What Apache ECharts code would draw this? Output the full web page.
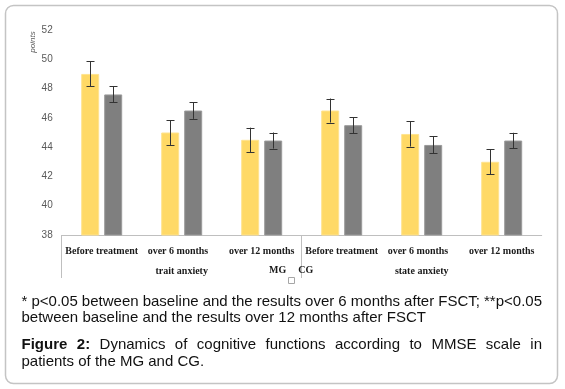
<!DOCTYPE html>
<html><head><meta charset="utf-8">
<script src="https://cdn.jsdelivr.net/npm/echarts@6/dist/echarts.min.js"></script>
<style>html,body{margin:0;padding:0;background:#fff}#c{width:565px;height:389px}</style>
</head><body><div id="c"></div>
<script>
// ---- data ----
const categories = ['Before treatment', 'over 6 months', 'over 12 months', 'Before treatment', 'over 6 months', 'over 12 months'];
const groups = ['trait anxiety', 'state anxiety'];
const seriesNames = ['MG', 'CG'];
const mgValues = [49.0, 45.0, 44.5, 46.5, 44.9, 43.0];
const cgValues = [47.6, 46.5, 44.45, 45.5, 44.15, 44.45];
const mgErr = [0.85, 0.85, 0.83, 0.82, 0.86, 0.85];
const cgErr = [0.55, 0.57, 0.55, 0.55, 0.58, 0.53];
const groupStarts = [0, 3];
const yMin = 38, yMax = 52, yStep = 2;
const yName = 'points';
const noteLine1 = '* p<0.05 between baseline and the results over 6 months after FSCT; **p<0.05';
const noteLine2 = 'between baseline and the results over 12 months after FSCT';
const figLabel = 'Figure 2:';
const figLine1 = 'Dynamics of cognitive functions according to MMSE scale in';
const figLine2 = 'patients of the MG and CG.';

// ---- caption layout (justified text) ----
const ctx = document.createElement('canvas').getContext('2d');
const FS = 15, FF = '"Liberation Sans", Arial, sans-serif';
function tw(t, bold) { ctx.font = (bold ? 'bold ' : '') + FS + 'px ' + FF; return ctx.measureText(t).width; }
const X0 = 21.5, X1 = 542;
function lineEls(words, y, justify) {
  const widths = words.map(w => tw(w.t, w.b));
  const total = widths.reduce((a, b) => a + b, 0);
  const gap = justify && words.length > 1 ? (X1 - X0 - total) / (words.length - 1) : tw(' ');
  let x = X0;
  return words.map((w, i) => {
    const el = { type: 'text', x: x, y: y, z: 100,
      style: { text: w.t, fontSize: FS, fontFamily: FF, fontWeight: w.b ? 'bold' : 'normal', fill: '#111', textVerticalAlign: 'middle' } };
    x += widths[i] + gap;
    return el;
  });
}
const W = s => s.split(' ').map(t => ({ t }));
const captionEls = [].concat(
  lineEls(W(noteLine1), 302, true),
  lineEls(W(noteLine2), 318, false),
  lineEls(figLabel.split(' ').map(t => ({ t, b: true })).concat(W(figLine1)), 345, true),
  lineEls(W(figLine2), 362, false)
);

// ---- error bars ----
const BAR_W = 18, BAR_GAP_PX = 5;
const OFF = (BAR_W + BAR_GAP_PX) / 2;
function errRender(offset) {
  return function (params, api) {
    const i = api.value(0);
    const lo = api.coord([i, api.value(1)]);
    const hi = api.coord([i, api.value(2)]);
    const x = Math.round(lo[0] + offset) + 0.5;
    const c = 4;
    const st = { stroke: '#333', lineWidth: 1 };
    return { type: 'group', children: [
      { type: 'line', shape: { x1: x, y1: hi[1], x2: x, y2: lo[1] }, style: st },
      { type: 'line', shape: { x1: x - c, y1: Math.round(hi[1]) + 0.5, x2: x + c, y2: Math.round(hi[1]) + 0.5 }, style: st },
      { type: 'line', shape: { x1: x - c, y1: Math.round(lo[1]) + 0.5, x2: x + c, y2: Math.round(lo[1]) + 0.5 }, style: st }
    ] };
  };
}
const errData = (vals, errs) => vals.map((v, i) => [i, v - errs[i], v + errs[i]]);

const serif = '"Liberation Serif", "Times New Roman", serif';
const chart = echarts.init(document.getElementById('c'), null, { renderer: 'canvas' });
chart.setOption({
  animation: false,
  backgroundColor: '#fff',
  grid: { left: 61.7, right: 23.3, top: 30, bottom: 154, containLabel: false },
  legend: {
    data: seriesNames, left: 257, top: 260, itemWidth: 1, itemHeight: 1, itemGap: 5,
    itemStyle: { opacity: 0 },
    textStyle: { fontFamily: serif, fontWeight: 'bold', fontSize: 10, color: '#1a1a1a', padding: 0 }
  },
  xAxis: [{
    type: 'category', data: categories, boundaryGap: true,
    axisLine: { show: true, lineStyle: { color: '#bfbfbf', width: 1 } },
    axisTick: { show: false },
    axisLabel: { interval: 0, margin: 11, fontFamily: serif, fontWeight: 'bold', fontSize: 10, color: '#1a1a1a',
      formatter: v => v === 'over 6 months' ? v + '\u00a0\u00a0\u00a0' : v }
  }, {
    type: 'category', data: groups, position: 'bottom', gridIndex: 0,
    axisLine: { show: false }, axisTick: { show: false },
    axisLabel: { interval: 0, margin: 31, fontFamily: serif, fontWeight: 'bold', fontSize: 10, color: '#1a1a1a' }
  }, {
    type: 'value', min: 0, max: categories.length, position: 'bottom', gridIndex: 0,
    axisLine: { show: false }, axisLabel: { show: false }, splitLine: { show: false },
    axisTick: { show: true, customValues: groupStarts, length: 43, lineStyle: { color: '#bfbfbf' } }
  }],
  yAxis: {
    type: 'value', min: yMin, max: yMax, interval: yStep,
    axisLine: { show: false }, axisTick: { show: false }, splitLine: { show: false },
    axisLabel: { margin: 9, fontFamily: '"Liberation Sans", Arial, sans-serif', fontSize: 10, color: '#595959' }
  },
  series: [
    { name: seriesNames[0], type: 'bar', data: mgValues, barWidth: BAR_W, barGap: (BAR_GAP_PX / BAR_W * 100) + '%',
      itemStyle: { color: '#FFD966', borderColor: '#FFE38F', borderWidth: 1 } },
    { name: seriesNames[1], type: 'bar', data: cgValues, barWidth: BAR_W,
      itemStyle: { color: '#7F7F7F', borderColor: '#9a9a9a', borderWidth: 1 } },
    { name: 'MG err', type: 'custom', data: errData(mgValues, mgErr), renderItem: errRender(-OFF), encode: { x: 0, y: [1, 2] }, z: 10 },
    { name: 'CG err', type: 'custom', data: errData(cgValues, cgErr), renderItem: errRender(OFF), encode: { x: 0, y: [1, 2] }, z: 10 }
  ],
  graphic: [
    { type: 'rect', shape: { x: 5.5, y: 5.5, width: 552, height: 378, r: 8 }, style: { fill: 'none', stroke: '#c4c4c4', lineWidth: 1.5 }, z: 0 },
    { type: 'text', x: 33, y: 42, rotation: Math.PI / 2,
      style: { text: yName, fontSize: 8, fontStyle: 'italic', fontFamily: '"Liberation Sans", Arial, sans-serif', fill: '#595959', align: 'center', verticalAlign: 'middle' } },
    { type: 'rect', shape: { x: 288.5, y: 277.5, width: 6, height: 6 }, style: { fill: '#fff', stroke: '#a6a6a6', lineWidth: 1 } }
  ].concat(captionEls)
});
</script></body></html>
